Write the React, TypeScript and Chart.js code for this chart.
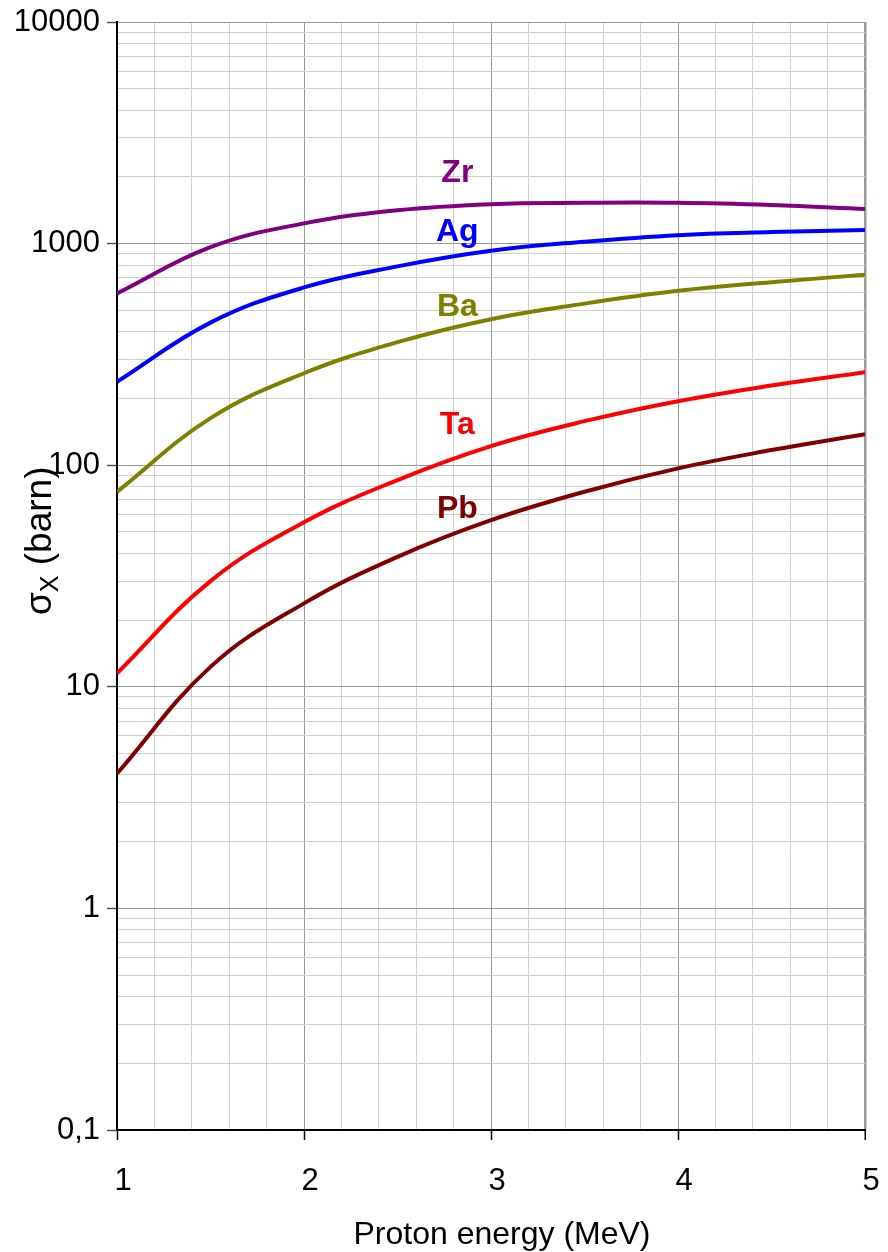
import React, { useEffect, useRef } from 'react';
import { Chart, registerables } from 'chart.js';

Chart.register(...registerables);

// ---- data ----
const energies = [1, 1.5, 2, 2.5, 3, 3.5, 4, 4.5, 5];
const zr = [596, 964, 1234, 1415, 1507, 1528, 1528, 1492, 1432];
const ag = [238, 440, 634, 789, 928, 1020, 1092, 1127, 1151];
const ba = [75.8, 163, 260, 359, 456, 536, 612, 670, 723];
const ta = [11.5, 30, 55.3, 85.7, 122, 158, 194.5, 229, 263];
const pb = [4.06, 12.3, 23.8, 38.6, 56.5, 75.9, 96.8, 117, 138];

const seriesNames = ['Zr', 'Ag', 'Ba', 'Ta', 'Pb'];
const seriesValues = [zr, ag, ba, ta, pb];
const seriesColors = ['#800080', '#0000ff', '#808000', '#ff0000', '#800000'];

const yDecades = [0.1, 1, 10, 100, 1000, 10000];
const yTickLabels = ['0,1', '1', '10', '100', '1000', '10000'];
const xTickLabels = ['1', '2', '3', '4', '5'];

const xTitle = 'Proton energy (MeV)';
const yTitleMain = 'σ';
const yTitleSub = 'X';
const yTitleRest = ' (barn)';

// label anchors in data coordinates
const LABEL_E = 2.82;
const LABEL_Y = [1896, 1026, 471, 138, 57.6];

const FONT = '"Liberation Sans", Arial, Helvetica, sans-serif';

const isDecade = (v: number) => yDecades.some((d) => Math.abs(d - v) < d * 1e-6);
const decadeIndex = (v: number) => yDecades.findIndex((d) => Math.abs(d - v) < d * 1e-6);
const isInt = (v: number) => Math.abs(v - Math.round(v)) < 1e-6;

const overlay = {
  id: 'overlay',
  afterDatasetsDraw(chart: any) {
    const { ctx } = chart;
    const x = chart.scales.x;
    const y = chart.scales.y;
    ctx.save();
    ctx.font = `bold 32px ${FONT}`;
    ctx.textAlign = 'center';
    ctx.textBaseline = 'alphabetic';
    seriesNames.forEach((n, i) => {
      ctx.fillStyle = seriesColors[i];
      ctx.fillText(n, x.getPixelForValue(LABEL_E), y.getPixelForValue(LABEL_Y[i]));
    });
    ctx.restore();
  },
  afterDraw(chart: any) {
    const { ctx } = chart;
    ctx.save();
    ctx.fillStyle = '#000';
    ctx.font = `32px ${FONT}`;
    ctx.textAlign = 'center';
    ctx.textBaseline = 'alphabetic';
    ctx.fillText(xTitle, 502, 1244);
    ctx.translate(51, 615);
    ctx.rotate(-Math.PI / 2);
    ctx.textAlign = 'left';
    ctx.font = `37px ${FONT}`;
    ctx.fillText(yTitleMain, 0, 0);
    let off = ctx.measureText(yTitleMain).width;
    ctx.font = `25px ${FONT}`;
    ctx.fillText(yTitleSub, off, 7);
    off += ctx.measureText(yTitleSub).width;
    ctx.font = `37px ${FONT}`;
    ctx.fillText(yTitleRest, off, 0);
    ctx.restore();
  },
};

export default function App() {
  const ref = useRef<HTMLCanvasElement | null>(null);
  useEffect(() => {
    if (!ref.current) return;
    const datasets = seriesNames.map((n, i) => ({
      label: n,
      data: energies.map((e, j) => ({ x: e, y: seriesValues[i][j] })),
      borderColor: seriesColors[i],
      backgroundColor: seriesColors[i],
      borderWidth: 4,
      pointRadius: 0,
      tension: 0.4,
      fill: false,
    }));
    const chart = new Chart(ref.current, {
      type: 'line',
      data: { datasets },
      plugins: [overlay],
      options: {
        responsive: false,
        animation: false,
        devicePixelRatio: 1,
        layout: { padding: { top: 22, right: 23, left: 0, bottom: 0 } },
        plugins: { legend: { display: false }, tooltip: { enabled: false } },
        scales: {
          x: {
            type: 'linear',
            min: 1,
            max: 5,
            afterFit: (s: any) => {
              s.height = 122;
              s.paddingLeft = 0;
              s.paddingRight = 0;
            },
            ticks: {
              stepSize: 0.2,
              autoSkip: false,
              maxRotation: 0,
              padding: 23,
              labelOffset: 6,
              color: '#000',
              font: { family: FONT, size: 31 },
              callback: (v: any) => (isInt(Number(v)) ? xTickLabels[Math.round(Number(v)) - 1] : ''),
            },
            grid: {
              drawTicks: true,
              tickLength: 10,
              color: (c: any) => (isInt(c.tick.value) ? '#999999' : '#d0d0d0'),
              lineWidth: (c: any) => (Math.abs(c.tick.value - 5) < 1e-6 ? 2.5 : 1),
              tickColor: (c: any) => (isInt(c.tick.value) ? '#000000' : 'rgba(0,0,0,0)'),
              tickWidth: 1.5,
            },
            border: { display: true, color: '#000', width: 2 },
          },
          y: {
            type: 'logarithmic',
            min: 0.1,
            max: 10000,
            afterFit: (s: any) => {
              s.width = 117;
              s.paddingTop = 0;
              s.paddingBottom = 0;
            },
            afterBuildTicks: (s: any) => {
              const t: { value: number }[] = [];
              for (let k = 0; k < yDecades.length; k++) {
                t.push({ value: yDecades[k] });
                if (k < yDecades.length - 1) {
                  for (let m = 2; m <= 9; m++) t.push({ value: yDecades[k] * m });
                }
              }
              s.ticks = t;
            },
            ticks: {
              autoSkip: false,
              padding: 7,
              color: '#000',
              font: { family: FONT, size: 31 },
              callback: (v: any) => {
                const i = decadeIndex(Number(v));
                return i >= 0 ? yTickLabels[i] : '';
              },
            },
            grid: {
              drawTicks: true,
              tickLength: 10,
              color: (c: any) => (isDecade(c.tick.value) ? '#999999' : '#d0d0d0'),
              lineWidth: 1,
              tickColor: (c: any) => (isDecade(c.tick.value) ? '#555555' : 'rgba(0,0,0,0)'),
              tickWidth: 1.5,
            },
            border: { display: true, color: '#000', width: 2 },
          },
        },
      },
    } as any);
    return () => chart.destroy();
  }, []);
  return (
    <div style={{ position: 'absolute', left: 0, top: 0, width: 888, height: 1252, background: '#fff' }}>
      <canvas ref={ref} width={888} height={1252} style={{ display: 'block', width: 888, height: 1252 }} />
    </div>
  );
}
